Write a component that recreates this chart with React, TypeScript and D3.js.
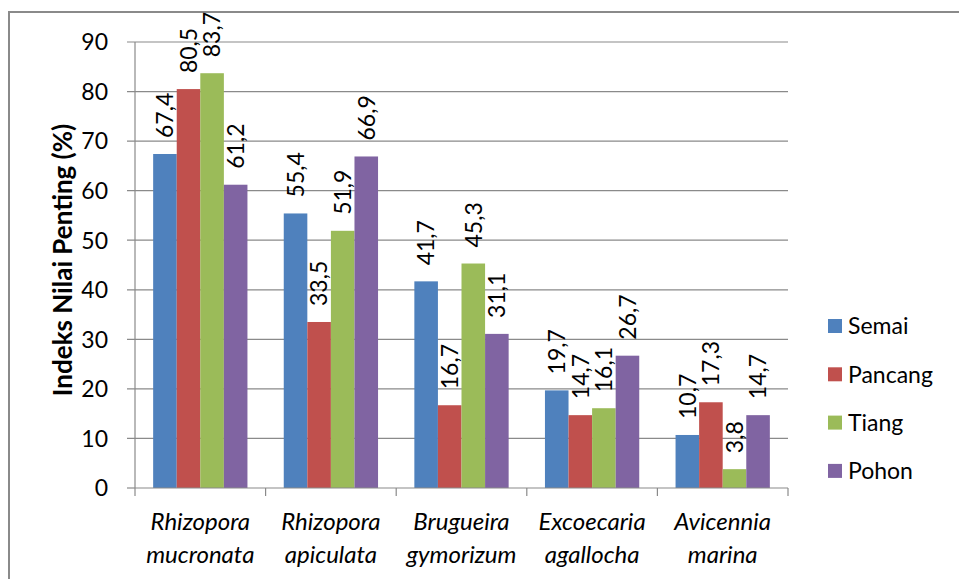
import React from 'react';
import * as d3 from 'd3';

const species: string[][] = [
  ['Rhizopora', 'mucronata'],
  ['Rhizopora', 'apiculata'],
  ['Brugueira', 'gymorizum'],
  ['Excoecaria', 'agallocha'],
  ['Avicennia', 'marina'],
];
const seriesNames = ['Semai', 'Pancang', 'Tiang', 'Pohon'];
const semai = [67.4, 55.4, 41.7, 19.7, 10.7];
const pancang = [80.5, 33.5, 16.7, 14.7, 17.3];
const tiang = [83.7, 51.9, 45.3, 16.1, 3.8];
const pohon = [61.2, 66.9, 31.1, 26.7, 14.7];
const yTicks = [0, 10, 20, 30, 40, 50, 60, 70, 80, 90];
const colors = ['#4F81BD', '#C0504D', '#9BBB59', '#8064A2'];

const App: React.FC = () => {
  const width = 959;
  const height = 579;
  const margin = { top: 42, right: 171, bottom: 91, left: 135 };
  const innerW = width - margin.left - margin.right;
  const innerH = height - margin.top - margin.bottom;
  const font = 'Lato, "Open Sans", sans-serif';

  const values = [semai, pancang, tiang, pohon];
  const groups = species.map((s) => s.join(' '));

  const x0 = d3.scaleBand<string>().domain(groups).range([0, innerW]);
  const bw = x0.bandwidth();
  const x1 = d3
    .scaleBand<string>()
    .domain(seriesNames)
    .range([bw * 0.139, bw * 0.861]);
  const y = d3.scaleLinear().domain([0, 90]).range([innerH, 0]);

  const fmt = (v: number) => v.toFixed(1).replace('.', ',');

  return (
    <svg
      width={width}
      height={height}
      style={{ position: 'absolute', left: 0, top: 0, background: '#fff' }}
      fontFamily={font}
    >
      <rect x={9} y={12} width={1000} height={700} fill="#fff" stroke="#8a8a8a" strokeWidth={2} />
      <g transform={`translate(${margin.left},${margin.top})`}>
        {yTicks.map((t) => (
          <g key={t}>
            <line x1={-8} x2={t === 0 ? 0 : innerW} y1={y(t)} y2={y(t)} stroke="#8a8a8a" strokeWidth={1.2} />
            <text x={-27} y={y(t)} dy="0.36em" textAnchor="end" fontSize={23} fill="#000">
              {t}
            </text>
          </g>
        ))}
        {values.map((vals, si) =>
          vals.map((v, gi) => {
            const bx = (x0(groups[gi]) ?? 0) + (x1(seriesNames[si]) ?? 0);
            return (
              <rect
                key={`${si}-${gi}`}
                x={bx}
                y={y(v)}
                width={x1.bandwidth()}
                height={innerH - y(v)}
                fill={colors[si]}
              />
            );
          })
        )}
        <line x1={0} x2={0} y1={0} y2={innerH + 8} stroke="#8a8a8a" strokeWidth={1.2} />
        <line x1={0} x2={innerW} y1={innerH} y2={innerH} stroke="#8a8a8a" strokeWidth={1.2} />
        {groups.map((g) => (
          <line
            key={g}
            x1={(x0(g) ?? 0) + bw}
            x2={(x0(g) ?? 0) + bw}
            y1={innerH}
            y2={innerH + 8}
            stroke="#8a8a8a"
            strokeWidth={1.2}
          />
        ))}
        {values.map((vals, si) =>
          vals.map((v, gi) => {
            const cx = (x0(groups[gi]) ?? 0) + (x1(seriesNames[si]) ?? 0) + x1.bandwidth() / 2;
            return (
              <text
                key={`l${si}-${gi}`}
                transform={`translate(${cx},${y(v) - 16}) rotate(-90)`}
                dy="0.36em"
                fontSize={23}
                fill="#000"
              >
                {fmt(v)}
              </text>
            );
          })
        )}
        {species.map((s, i) => (
          <text
            key={`c${i}`}
            x={(x0(groups[i]) ?? 0) + bw / 2}
            y={innerH + 42}
            textAnchor="middle"
            fontSize={24}
            fontStyle="italic"
            fill="#000"
          >
            <tspan x={(x0(groups[i]) ?? 0) + bw / 2}>{s[0]}</tspan>
            <tspan x={(x0(groups[i]) ?? 0) + bw / 2} dy={33}>
              {s[1]}
            </tspan>
          </text>
        ))}
      </g>
      <text
        transform={`translate(${72},${260}) rotate(-90)`}
        textAnchor="middle"
        fontSize={26}
        fontWeight="bold"
        fill="#000"
      >
        Indeks Nilai Penting (%)
      </text>
      {seriesNames.map((n, i) => (
        <g key={n} transform={`translate(828,${326 + i * 48.3})`}>
          <rect x={0} y={-7} width={14} height={14} fill={colors[i]} />
          <text x={20} dy="0.36em" fontSize={23} fill="#000">
            {n}
          </text>
        </g>
      ))}
    </svg>
  );
};

export default App;
